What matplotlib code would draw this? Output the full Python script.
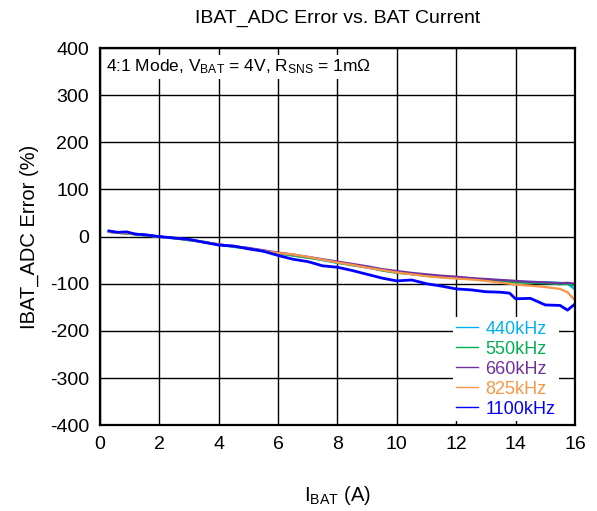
import matplotlib
matplotlib.use('Agg')
import matplotlib.pyplot as plt

plt.rcParams['font.family'] = ['Liberation Sans', 'DejaVu Sans']
plt.rcParams['mathtext.fontset'] = 'custom'
plt.rcParams['mathtext.rm'] = 'Liberation Sans'
plt.rcParams['mathtext.it'] = 'Liberation Sans:italic'
plt.rcParams['axes.unicode_minus'] = False

# battery current (A)
i_bat = [0.3, 0.6, 0.9, 1.2, 1.5, 2.0, 2.5, 3.0, 3.5, 4.0, 4.5, 5.0, 5.5, 6.0, 6.5, 7.0,
         7.5, 8.0, 8.5, 9.0, 9.5, 10.0, 10.5, 11.0, 11.5, 12.0, 12.5, 13.0, 13.5, 13.8,
         14.0, 14.5, 15.0, 15.5, 15.75, 16.0]

err_440 = [10, 8, 7, 5, 3, 0, -4, -7, -12, -17, -20, -25, -30, -36, -40, -44,
           -50, -56, -60, -66, -71, -76, -80, -83, -85, -88, -89, -92, -93, -95,
           -96, -96, -97, -98, -100, -112]
err_550 = [10, 8, 6, 5, 2, 0, -3, -8, -11, -17, -22, -25, -31, -35, -40, -45,
           -49, -55, -61, -65, -72, -77, -79, -83, -86, -87, -90, -91, -94, -96,
           -97, -98, -99, -101, -100, -104]
err_660 = [11, 9, 7, 6, 4, 0, -3, -6, -12, -16, -21, -24, -29, -34, -38, -43,
           -48, -53, -58, -63, -69, -73, -77, -80, -83, -85, -88, -90, -92, -93,
           -94, -96, -97, -99, -98, -100]
err_825 = [10, 8, 7, 5, 3, -1, -3, -7, -12, -17, -20, -26, -30, -35, -38, -43,
           -49, -55, -60, -66, -71, -76, -80, -84, -87, -89, -91, -94, -98, -100,
           -102, -104, -107, -111, -118, -135]
err_1100 = [12, 9, 10, 5, 4, 0, -3, -6, -12, -18, -20, -26, -31, -40, -48, -53,
            -62, -65, -72, -80, -88, -94, -92, -100, -105, -111, -113, -117, -118, -120,
            -132, -131, -145, -146, -156, -143]

series = [('440kHz', err_440, '#00b0f0'),
          ('550kHz', err_550, '#00b050'),
          ('660kHz', err_660, '#7030a0'),
          ('825kHz', err_825, '#f79646'),
          ('1100kHz', err_1100, '#0000ff')]

fig = plt.figure(figsize=(5.97, 5.11), dpi=100)
ax = fig.add_axes([0.1675, 0.168, 0.7955, 0.738])

for name, vals, col in series:
    lw = 2.0 if name == '1100kHz' else 1.6
    ax.plot(i_bat, vals, color=col, linewidth=lw, label=name)

ax.set_xlim(0, 16)
ax.set_ylim(-400, 400)
ax.set_xticks(range(0, 17, 2))
ax.set_yticks(range(-400, 401, 100))
ax.grid(True, color='black', linewidth=1.0)
ax.set_axisbelow(True)
ax.tick_params(labelsize=14, length=0, pad=8)
for s in ax.spines.values():
    s.set_linewidth(1.6)

ax.set_title('IBAT_ADC Error vs. BAT Current', fontsize=14, pad=18)
ax.set_ylabel('IBAT_ADC Error (%)', fontsize=14.5, labelpad=8)
ax.set_xlabel(r'I$_{\mathrm{BAT}}$ (A)', fontsize=14.5, labelpad=22)

ax.text(0.012, 0.975, r'4:1 Mode, V$_{\mathrm{BAT}}$ = 4V, R$_{\mathrm{SNS}}$ = 1m$\Omega$',
        transform=ax.transAxes, fontsize=12.5, va='top', ha='left',
        bbox=dict(facecolor='white', edgecolor='none', pad=2))

leg = ax.legend(loc='lower right', bbox_to_anchor=(0.985, -0.014), fontsize=13,
                frameon=True, framealpha=1, edgecolor='none', fancybox=False,
                handlelength=1.2, handletextpad=0.4, labelspacing=0.17,
                borderpad=0.2)
for txt, (name, vals, col) in zip(leg.get_texts(), series):
    txt.set_color(col)
for line in leg.get_lines():
    line.set_linewidth(1.0)

fig.savefig('out.png', dpi=100)
